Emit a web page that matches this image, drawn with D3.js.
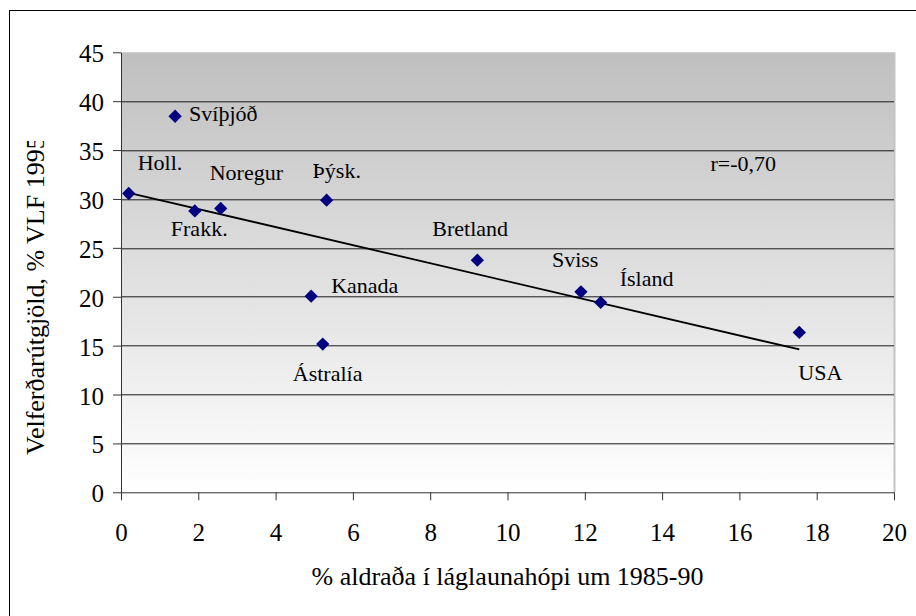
<!DOCTYPE html>
<meta charset="utf-8">
<script src="https://d3js.org/d3.v7.min.js"></script>
<style>
  body { margin: 0; background: #fff; }
</style>
<body>
<div id="chart"></div>
<script>

// data
var countries = ["Holl.", "Svíþjóð", "Frakk.", "Noregur", "Þýsk.", "Kanada", "Ástralía", "Bretland", "Sviss", "Ísland", "USA"];
var lowIncomeElderly = [0.20, 1.40, 1.91, 2.58, 5.32, 4.92, 5.22, 9.22, 11.90, 12.41, 17.55];
var welfareSpending = [30.56, 38.46, 28.78, 29.03, 29.87, 20.06, 15.16, 23.74, 20.50, 19.42, 16.35];
var xTicks = [0, 2, 4, 6, 8, 10, 12, 14, 16, 18, 20];
var yTicks = [0, 5, 10, 15, 20, 25, 30, 35, 40, 45];
var xTitle = "% aldraða í láglaunahópi um 1985-90";
var yTitle = "Velferðarútgjöld, % VLF 1995";
var corrText = "r=-0,70";

// label placement (pixel offsets from the marker)
var labelOffset = {
  "Holl.": [9, -23], "Svíþjóð": [14, 5], "Frakk.": [-24, 25.5], "Noregur": [-11, -28.5],
  "Þýsk.": [-14, -22], "Kanada": [20, -3], "Ástralía": [-30, 37], "Bretland": [-45, -24],
  "Sviss": [-29, -25], "Ísland": [19, -16.5], "USA": [-1, 48]
};

var FONT = "Liberation Serif";

var W = 916, H = 616;
var margin = {top: 52.3, right: 22, bottom: 123.7, left: 121},
    width = W - margin.left - margin.right,
    height = H - margin.top - margin.bottom;

var svg = d3.select("#chart").append("svg")
    .attr("width", W)
    .attr("height", H)
    .attr("font-family", FONT);

// outer frame (runs off the right and bottom edges)
svg.append("rect")
    .attr("x", 9.5).attr("y", 10.5)
    .attr("width", 920).attr("height", 620)
    .attr("fill", "none").attr("stroke", "#000").attr("stroke-width", 1);

var defs = svg.append("defs");
var grad = defs.append("linearGradient")
    .attr("id", "bg").attr("x1", 0).attr("y1", 0).attr("x2", 0).attr("y2", 1);
grad.append("stop").attr("offset", "0%").attr("stop-color", "#bfbfbf");
grad.append("stop").attr("offset", "100%").attr("stop-color", "#ffffff");

// the y title is cut off at the top in the original
defs.append("clipPath").attr("id", "ytclip")
  .append("rect").attr("x", 0).attr("y", 141).attr("width", 100).attr("height", 400);

var g = svg.append("g")
    .attr("transform", "translate(" + margin.left + "," + margin.top + ")");

var x = d3.scaleLinear().domain([0, 20]).range([0, width]);
var y = d3.scaleLinear().domain([0, 45]).range([height, 0]);

// plot area
g.append("rect")
    .attr("width", width).attr("height", height)
    .attr("fill", "url(#bg)");
g.append("line")
    .attr("x1", width + 0.5).attr("x2", width + 0.5)
    .attr("y1", 0).attr("y2", height)
    .attr("stroke", "#c4c4c4").attr("stroke-width", 2);

// gridlines
g.append("g").selectAll("line")
  .data(yTicks.filter(function(d) { return d > 0 && d < 45; }))
  .enter().append("line")
    .attr("x1", 0).attr("x2", width)
    .attr("y1", function(d) { return Math.round(y(d)) + 0.5; })
    .attr("y2", function(d) { return Math.round(y(d)) + 0.5; })
    .attr("stroke", "#1a1a1a").attr("stroke-width", 1);

// axes
var xAxis = g.append("g")
    .attr("transform", "translate(0," + height + ")")
    .call(d3.axisBottom(x).tickValues(xTicks).tickSize(8).tickSizeOuter(0));
xAxis.selectAll("text")
    .attr("y", 49).attr("dy", 0)
    .style("font-size", "25px");

var yAxis = g.append("g")
    .call(d3.axisLeft(y).tickValues(yTicks).tickSize(8).tickSizeOuter(0));
yAxis.selectAll("text")
    .attr("x", -17).attr("dy", "0.38em")
    .style("font-size", "25px");

[xAxis, yAxis].forEach(function(a) {
  a.attr("font-family", FONT);
  a.select(".domain").attr("stroke", "#333");
  a.selectAll(".tick line").attr("stroke", "#333");
  a.selectAll("text").attr("fill", "#000").style("font-family", FONT);
});

// trend line (least squares over the points)
var mx = d3.mean(lowIncomeElderly), my = d3.mean(welfareSpending);
var sxy = d3.sum(lowIncomeElderly, function(v, i) { return (v - mx) * (welfareSpending[i] - my); });
var sxx = d3.sum(lowIncomeElderly, function(v) { return (v - mx) * (v - mx); });
var slope = sxy / sxx, icpt = my - slope * mx;
var xr = d3.extent(lowIncomeElderly);
g.append("line")
    .attr("x1", x(xr[0])).attr("y1", y(icpt + slope * xr[0]))
    .attr("x2", x(xr[1])).attr("y2", y(icpt + slope * xr[1]))
    .attr("stroke", "#000").attr("stroke-width", 1.8);

// diamonds
var diamond = d3.symbol().type(d3.symbolSquare).size(88);
g.append("g").selectAll("path")
  .data(countries)
  .enter().append("path")
    .attr("d", diamond)
    .attr("transform", function(d, i) {
      return "translate(" + x(lowIncomeElderly[i]) + "," + y(welfareSpending[i]) + ") rotate(45)";
    })
    .attr("fill", "#000080");

// country labels
g.append("g").selectAll("text")
  .data(countries)
  .enter().append("text")
    .attr("x", function(d, i) { return x(lowIncomeElderly[i]) + labelOffset[d][0]; })
    .attr("y", function(d, i) { return y(welfareSpending[i]) + labelOffset[d][1]; })
    .style("font-family", FONT)
    .style("font-size", "22px")
    .text(function(d) { return d; });

g.append("text")
    .attr("x", x(15.25)).attr("y", y(32.9))
    .style("font-family", FONT)
    .style("font-size", "22px")
    .text(corrText);

// axis titles
svg.append("text")
    .attr("x", margin.left + width / 2).attr("y", 585)
    .attr("text-anchor", "middle")
    .style("font-family", FONT)
    .style("font-size", "26px")
    .text(xTitle);

svg.append("g").attr("clip-path", "url(#ytclip)")
  .append("text")
    .attr("transform", "translate(43.5,455) rotate(-90)")
    .style("font-family", FONT)
    .style("font-size", "26px")
    .text(yTitle);

</script>
</body>
